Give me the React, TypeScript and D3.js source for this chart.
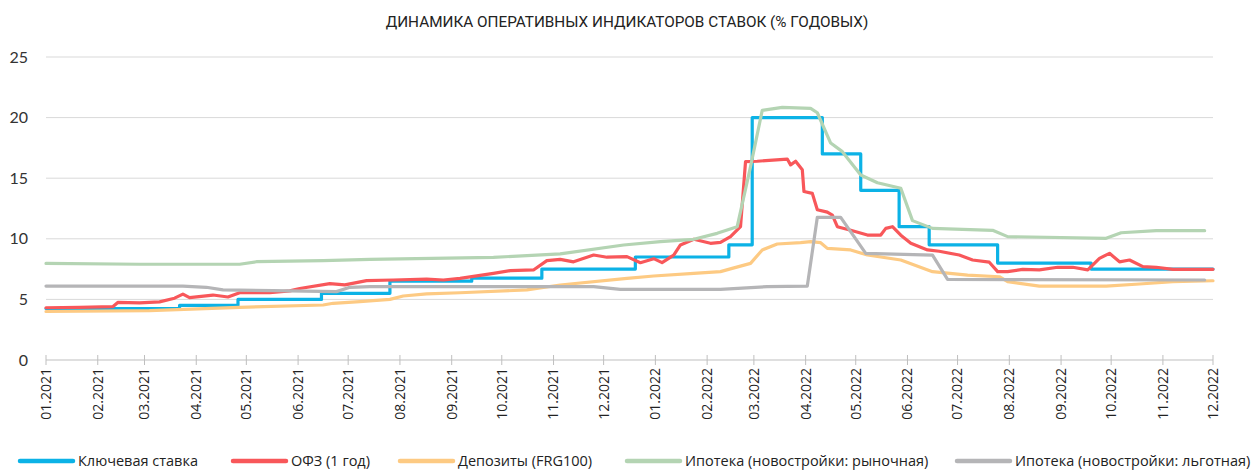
import React from "react";
import * as d3 from "d3";

const title = "ДИНАМИКА ОПЕРАТИВНЫХ ИНДИКАТОРОВ СТАВОК (% ГОДОВЫХ)";

const yTicks = [0, 5, 10, 15, 20, 25];

// Ключевая ставка
const keyDates = ["2021-01-01", "2021-03-22", "2021-04-26", "2021-06-15", "2021-07-26", "2021-09-13", "2021-10-25", "2021-12-20", "2022-02-14", "2022-02-28", "2022-04-11", "2022-05-04", "2022-05-27", "2022-06-14", "2022-07-25", "2022-09-19", "2022-12-01"];
const keyValues = [4.25, 4.5, 5.0, 5.5, 6.5, 6.75, 7.5, 8.5, 9.5, 20, 17, 14, 11, 9.5, 8, 7.5, 7.5];

// ОФЗ (1 год)
const ofzDates = ["2021-01-01", "2021-01-21", "2021-02-10", "2021-02-13", "2021-02-26", "2021-03-10", "2021-03-19", "2021-03-24", "2021-03-28", "2021-04-11", "2021-04-20", "2021-04-27", "2021-05-15", "2021-05-27", "2021-06-02", "2021-06-20", "2021-06-29", "2021-07-12", "2021-07-28", "2021-08-17", "2021-08-27", "2021-09-06", "2021-09-26", "2021-10-06", "2021-10-20", "2021-10-28", "2021-11-05", "2021-11-13", "2021-11-25", "2021-12-03", "2021-12-15", "2021-12-23", "2021-12-31", "2022-01-05", "2022-01-12", "2022-01-16", "2022-01-24", "2022-02-03", "2022-02-09", "2022-02-15", "2022-02-21", "2022-02-24", "2022-03-03", "2022-03-21", "2022-03-23", "2022-03-26", "2022-03-30", "2022-03-31", "2022-04-05", "2022-04-08", "2022-04-14", "2022-04-17", "2022-04-20", "2022-04-28", "2022-05-08", "2022-05-16", "2022-05-19", "2022-05-23", "2022-05-28", "2022-06-03", "2022-06-13", "2022-06-20", "2022-07-02", "2022-07-10", "2022-07-20", "2022-07-25", "2022-07-31", "2022-08-09", "2022-08-19", "2022-08-30", "2022-09-08", "2022-09-17", "2022-09-24", "2022-09-30", "2022-10-06", "2022-10-12", "2022-10-20", "2022-10-28", "2022-11-07", "2022-12-01"];
const ofzValues = [4.31, 4.35, 4.4, 4.75, 4.72, 4.8, 5.1, 5.44, 5.14, 5.36, 5.2, 5.55, 5.55, 5.7, 5.9, 6.3, 6.2, 6.55, 6.6, 6.68, 6.6, 6.74, 7.15, 7.37, 7.43, 8.2, 8.3, 8.1, 8.66, 8.48, 8.53, 8.03, 8.36, 8.03, 8.66, 9.49, 9.96, 9.63, 9.7, 10.18, 11.0, 16.36, 16.4, 16.58, 16.1, 16.4, 15.7, 13.9, 13.75, 12.4, 12.2, 11.96, 11.0, 10.7, 10.31, 10.31, 10.86, 11.0, 10.3, 9.63, 9.08, 8.97, 8.66, 8.25, 8.07, 7.29, 7.29, 7.48, 7.43, 7.65, 7.65, 7.43, 8.39, 8.8, 8.1, 8.25, 7.7, 7.65, 7.48, 7.48];

// Депозиты (FRG100)
const depDates = ["2021-01-01", "2021-03-04", "2021-04-27", "2021-06-16", "2021-06-22", "2021-07-08", "2021-07-26", "2021-08-03", "2021-08-17", "2021-09-06", "2021-10-16", "2021-11-05", "2021-12-15", "2021-12-31", "2022-01-24", "2022-02-09", "2022-02-16", "2022-02-27", "2022-03-06", "2022-03-15", "2022-03-29", "2022-04-04", "2022-04-10", "2022-04-14", "2022-04-28", "2022-05-08", "2022-05-28", "2022-06-16", "2022-07-07", "2022-07-26", "2022-07-31", "2022-08-19", "2022-09-28", "2022-10-18", "2022-11-07", "2022-12-01"];
const depValues = [4.0, 4.07, 4.35, 4.54, 4.68, 4.81, 5.0, 5.28, 5.45, 5.55, 5.78, 6.19, 6.74, 6.93, 7.15, 7.29, 7.56, 7.97, 9.08, 9.57, 9.68, 9.76, 9.68, 9.21, 9.08, 8.66, 8.25, 7.29, 7.0, 6.87, 6.46, 6.1, 6.1, 6.27, 6.46, 6.54];

// Ипотека (новостройки: рыночная)
const mktDates = ["2021-01-01", "2021-02-26", "2021-04-27", "2021-05-07", "2021-06-16", "2021-07-14", "2021-09-26", "2021-11-05", "2021-12-13", "2022-01-04", "2022-01-24", "2022-02-07", "2022-02-19", "2022-02-27", "2022-03-06", "2022-03-18", "2022-04-04", "2022-04-08", "2022-04-16", "2022-04-23", "2022-05-04", "2022-05-14", "2022-05-28", "2022-06-04", "2022-06-16", "2022-07-22", "2022-07-31", "2022-09-28", "2022-10-07", "2022-10-28", "2022-11-26"];
const mktValues = [7.97, 7.9, 7.9, 8.11, 8.2, 8.31, 8.47, 8.75, 9.49, 9.76, 9.96, 10.45, 11.0, 15.95, 20.6, 20.85, 20.76, 20.4, 17.9, 17.19, 15.26, 14.63, 14.17, 11.5, 10.86, 10.7, 10.18, 10.04, 10.5, 10.67, 10.67];

// Ипотека (новостройки: льготная)
const prefDates = ["2021-01-01", "2021-03-24", "2021-04-07", "2021-04-17", "2021-05-17", "2021-06-24", "2021-07-02", "2021-07-14", "2021-11-25", "2021-12-11", "2022-02-09", "2022-03-09", "2022-04-02", "2022-04-08", "2022-04-22", "2022-05-07", "2022-06-16", "2022-06-25", "2022-11-26"];
const prefValues = [6.1, 6.1, 6.0, 5.78, 5.72, 5.64, 6.0, 6.05, 6.05, 5.83, 5.83, 6.05, 6.1, 11.77, 11.77, 8.8, 8.66, 6.65, 6.6];

const parse = d3.timeParse("%Y-%m-%d");

const series = [
  { name: "Ключевая ставка", color: "#0cb2e6", dates: keyDates, values: keyValues, step: true },
  { name: "ОФЗ (1 год)", color: "#f8575a", dates: ofzDates, values: ofzValues, step: false },
  { name: "Депозиты (FRG100)", color: "#fdca83", dates: depDates, values: depValues, step: false },
  { name: "Ипотека (новостройки: рыночная)", color: "#b4d4b3", dates: mktDates, values: mktValues, step: false },
  { name: "Ипотека (новостройки: льготная)", color: "#b5b5b7", dates: prefDates, values: prefValues, step: false },
];

const legendX = [20, 233, 400, 627, 957];

export default function App() {
  const width = 1255;
  const height = 470;
  const margin = { left: 46, right: 42, top: 57, bottom: 110 };

  const x = d3
    .scaleTime()
    .domain([parse("2021-01-01")!, parse("2022-12-01")!])
    .range([margin.left, width - margin.right]);
  const y = d3.scaleLinear().domain([0, 25]).range([height - margin.bottom, margin.top]);

  const months = d3.timeMonth.range(parse("2021-01-01")!, d3.timeDay.offset(parse("2022-12-01")!, 1));
  const fmt = d3.timeFormat("%m.%Y");

  const axisFont = "Lato, 'Liberation Sans', sans-serif";
  const labelFont = "'Open Sans', Roboto, sans-serif";

  return (
    <svg width={width} height={height} style={{ position: "absolute", left: 0, top: 0, background: "#fff" }}>
      <text x={627} y={27} textAnchor="middle" fontFamily="'Liberation Sans Narrow', 'Roboto', sans-serif" fontSize={15.3} fill="#222">
        {title}
      </text>

      {yTicks.map((t) => (
        <g key={t}>
          {t > 0 && <line x1={margin.left} x2={width - margin.right} y1={y(t)} y2={y(t)} stroke="#d9d9d9" strokeWidth={1} />}
          <text x={28} y={y(t)} dy="0.35em" textAnchor="end" fontFamily={axisFont} fontSize={16} fill="#333">
            {t}
          </text>
        </g>
      ))}

      <line x1={margin.left} x2={width - margin.right} y1={y(0)} y2={y(0)} stroke="#bfbfbf" strokeWidth={1} />
      {months.map((m) => (
        <g key={m.toISOString()}>
          <line x1={x(m)} x2={x(m)} y1={y(0) - 5} y2={y(0) + 5} stroke="#bfbfbf" strokeWidth={1} />
          <text
            transform={`translate(${x(m)},${y(0) + 8}) rotate(-90)`}
            textAnchor="end"
            dy="0.35em"
            fontFamily={labelFont}
            fontSize={14}
            fill="#222"
          >
            {fmt(m)}
          </text>
        </g>
      ))}

      {series.map((s) => {
        const pts = s.dates.map((d, i) => [parse(d)!, s.values[i]] as [Date, number]);
        const line = d3
          .line<[Date, number]>()
          .x((d) => x(d[0]))
          .y((d) => y(d[1]))
          .curve(s.step ? d3.curveStepAfter : d3.curveLinear);
        return (
          <path key={s.name} d={line(pts) || ""} fill="none" stroke={s.color} strokeWidth={3.2} strokeLinejoin="round" strokeLinecap="round" />
        );
      })}

      {series.map((s, i) => (
        <g key={s.name} transform={`translate(${legendX[i]},461)`}>
          <line x1={0} x2={53} y1={0} y2={0} stroke={s.color} strokeWidth={4.5} strokeLinecap="round" />
          <text x={58} y={0} dy="0.35em" fontFamily={labelFont} fontSize={14.5} fill="#222">
            {s.name}
          </text>
        </g>
      ))}
    </svg>
  );
}
